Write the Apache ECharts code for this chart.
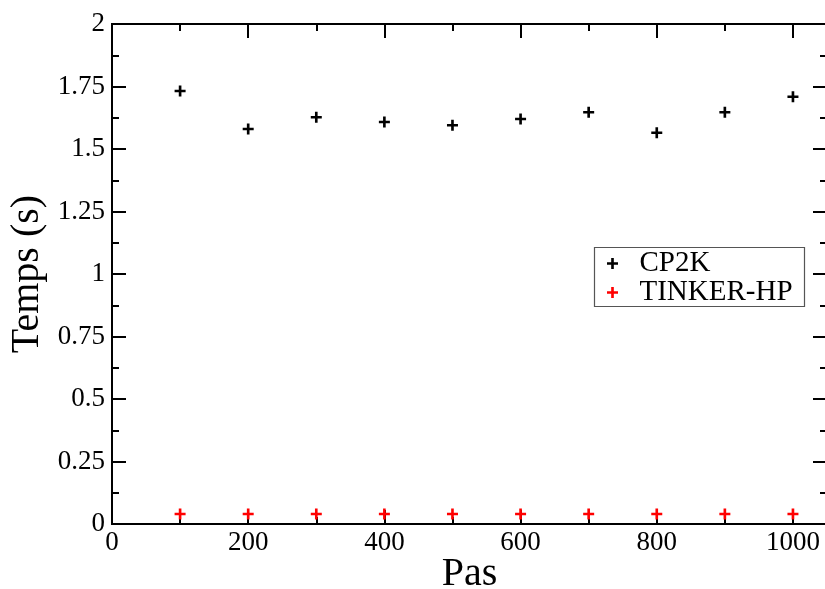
<!DOCTYPE html>
<html>
<head>
<meta charset="utf-8">
<script src="https://cdn.jsdelivr.net/npm/echarts@6/dist/echarts.min.js"></script>
<style>html,body{margin:0;padding:0;background:#fff;}#c{width:825px;height:589px;}</style>
</head>
<body>
<div id="c"></div>
<script>
var steps = [100, 200, 300, 400, 500, 600, 700, 800, 900, 1000];
var cp2k = [1.732, 1.58, 1.627, 1.608, 1.595, 1.62, 1.647, 1.565, 1.647, 1.709];
var tinker = [0.04, 0.04, 0.04, 0.04, 0.04, 0.04, 0.04, 0.04, 0.04, 0.04];
var seriesNames = ['CP2K', 'TINKER-HP'];
var xTitle = 'Pas';
var yTitle = 'Temps (s)';

var FONT = 'Liberation Serif';
var PLUS = 'path://M3.8,0H6.2V3.8H10V6.2H6.2V10H3.8V6.2H0V3.8H3.8Z';

function pairs(xs, ys) { return xs.map(function (x, i) { return [x, ys[i]]; }); }
function plain(v) { return String(v); }

function xAx(pos, major, show) {
  return {
    type: 'value', position: pos, min: 0, max: 1050,
    interval: major ? 200 : 100,
    name: (show ? xTitle : ''), nameLocation: 'middle', nameGap: 30, nameMoveOverlap: false,
    nameTextStyle: { fontFamily: FONT, fontSize: 40, color: '#000' },
    axisLine: { show: false, onZero: false },
    axisTick: { show: true, inside: true, length: major ? 14 : 7, lineStyle: { color: '#000', width: 2 } },
    axisLabel: { show: show, showMaxLabel: false, margin: 5, formatter: plain, fontFamily: FONT, fontSize: 27, color: '#000' },
    splitLine: { show: false }
  };
}
function yAx(pos, show) {
  return {
    type: 'value', position: pos, min: 0, max: 2, interval: 0.25,
    name: (show ? yTitle : ''), nameLocation: 'middle', nameGap: 65, nameMoveOverlap: false,
    nameTextStyle: { fontFamily: FONT, fontSize: 40, color: '#000' },
    axisLine: { show: false, onZero: false },
    axisTick: { show: true, inside: true, length: 14, lineStyle: { color: '#000', width: 2 } },
    minorTick: { show: true, splitNumber: 2, length: 7, lineStyle: { color: '#000', width: 2 } },
    axisLabel: { show: show, margin: 7, formatter: plain, fontFamily: FONT, fontSize: 27, color: '#000' },
    splitLine: { show: false }, minorSplitLine: { show: false }
  };
}

var chart = echarts.init(document.getElementById('c'), null, { renderer: 'canvas' });
chart.setOption({
  animation: false,
  backgroundColor: '#fff',
  grid: { left: 112, top: 24, width: 715, height: 500, outerBoundsMode: 'none', containLabel: false,
    show: true, borderColor: '#000', borderWidth: 2, backgroundColor: 'transparent' },
  xAxis: [xAx('bottom', true, true), xAx('bottom', false, false), xAx('top', true, false), xAx('top', false, false)],
  yAxis: [yAx('left', true), yAx('right', false)],
  legend: {
    orient: 'vertical', left: 607, top: 249, padding: 0, itemGap: 0,
    itemWidth: 22, itemHeight: 11,
    data: [{ name: seriesNames[0], icon: PLUS }, { name: seriesNames[1], icon: PLUS }],
    textStyle: { fontFamily: FONT, fontSize: 29, color: '#000', lineHeight: 26, padding: [0, 0, 0, 11] }
  },
  graphic: [{
    type: 'rect', left: 592, top: 245, shape: { width: 210, height: 59 },
    style: { fill: 'none', stroke: '#555', lineWidth: 1.2 }, z: 0
  }],
  series: [
    { name: seriesNames[0], type: 'scatter', xAxisIndex: 0, yAxisIndex: 0, symbol: PLUS, symbolSize: 11,
      itemStyle: { color: '#000', opacity: 1 }, data: pairs(steps, cp2k) },
    { name: seriesNames[1], type: 'scatter', xAxisIndex: 0, yAxisIndex: 0, symbol: PLUS, symbolSize: 11,
      itemStyle: { color: '#ff0000', opacity: 1 }, data: pairs(steps, tinker) }
  ]
});
</script>
</body>
</html>
